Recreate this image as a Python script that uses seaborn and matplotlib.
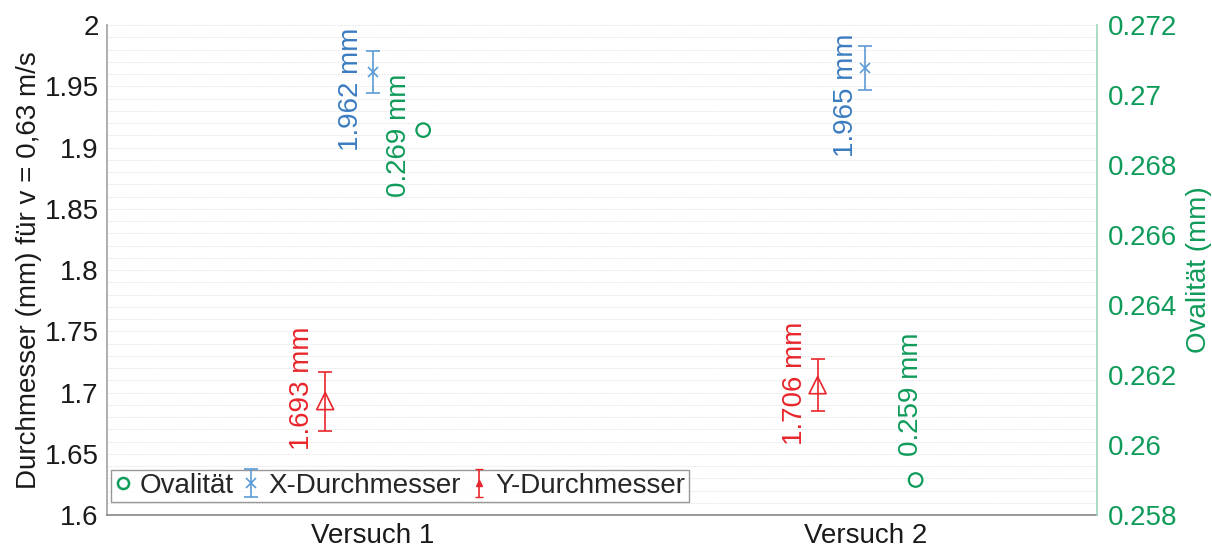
import numpy as np
import pandas as pd
import matplotlib
matplotlib.use("Agg")
import matplotlib.pyplot as plt
import seaborn as sns
from matplotlib.lines import Line2D
from matplotlib.ticker import MultipleLocator, FuncFormatter

# ---- data ----
categories = ["Versuch 1", "Versuch 2"]
x_diam = [1.962, 1.965]
x_err = [0.017, 0.018]
y_diam = [1.693, 1.706]
y_err = [0.024, 0.021]
ovality = [0.269, 0.259]

BLUE = "#3b7cc0"
BLUE_M = "#5b9bd5"
RED = "#e8262b"
GREEN = "#0f9b5a"

sns.set_theme(style="white")
plt.rcParams['font.family'] = ['Liberation Sans', 'DejaVu Sans']

fig = plt.figure(figsize=(12.12, 5.47), dpi=100)
ax = fig.add_axes([0.0883, 0.0585, 0.8167, 0.8955])
ax2 = ax.twinx()

pos = np.arange(len(categories))
off_y, off_x, off_o = -0.097, 0.0, 0.102

df = pd.DataFrame({"pos": pos, "x": x_diam, "y": y_diam, "o": ovality})

# grid
ax.set_ylim(1.6, 2.0)
ax.yaxis.set_major_locator(MultipleLocator(0.05))
ax.yaxis.set_minor_locator(MultipleLocator(0.01))
ax.grid(True, which='both', axis='y', color='#e3e3e3', linestyle=(0, (1.5, 1.5)), linewidth=0.7)
ax.set_axisbelow(True)

# X-Durchmesser
hx = ax.errorbar(df["pos"] + off_x, df["x"], yerr=x_err, fmt='x', color=BLUE_M,
                 ecolor=BLUE_M, elinewidth=1.2, capsize=5, capthick=1.2,
                 markersize=7, markeredgewidth=1.2, label="X-Durchmesser", zorder=3)
# Y-Durchmesser
ax.errorbar(df["pos"] + off_y, df["y"], yerr=y_err, fmt='none', ecolor=RED,
            elinewidth=1.2, capsize=5, capthick=1.2, zorder=3)
sns.scatterplot(x=df["pos"] + off_y, y=df["y"], ax=ax, marker='^', s=150,
                facecolor='none', edgecolor=RED, linewidth=1.2, zorder=4, legend=False)

# Ovalität (right axis)
sns.scatterplot(x=df["pos"] + off_o, y=df["o"], ax=ax2, marker='o', s=95,
                facecolor='none', edgecolor=GREEN, linewidth=1.6, zorder=4, legend=False)

ax.set_xlim(-0.54, 1.47)
ax2.set_ylim(0.258, 0.272)
ax2.yaxis.set_major_locator(MultipleLocator(0.002))

ax.set_xticks(pos)
ax.set_xticklabels(categories)
ax.yaxis.set_major_formatter(FuncFormatter(lambda v, p: f"{v:.2f}".rstrip('0').rstrip('.')))
ax2.yaxis.set_major_formatter(FuncFormatter(lambda v, p: f"{v:.3f}".rstrip('0').rstrip('.')))

fs = 20
ax.tick_params(axis='both', which='both', length=0, labelsize=fs, colors='#1a1a1a', pad=6)
ax.tick_params(axis='x', pad=6)
ax2.tick_params(axis='y', length=0, labelsize=fs, colors=GREEN, pad=8)

ax.set_ylabel("Durchmesser (mm) für v = 0,63 m/s", fontsize=fs, color='#1a1a1a', labelpad=2)
ax2.set_ylabel("Ovalität (mm)", fontsize=fs, color=GREEN, labelpad=6)
ax.set_xlabel("")
ax2.set_xlabel("")

for a in (ax, ax2):
    a.spines['top'].set_visible(False)
ax.spines['left'].set_color('#a6a6a6')
ax.spines['bottom'].set_color('#8c8c8c')
ax.spines['right'].set_visible(False)
ax2.spines['left'].set_visible(False)
ax2.spines['bottom'].set_visible(False)
ax2.spines['right'].set_color('#9fd6bb')
ax2.spines['right'].set_linewidth(1.2)

# data labels
lab_kw = dict(rotation=90, ha='center', va='center', fontsize=fs, textcoords='offset pixels')
x_offsets = [(-22, -18), (-19, -27)]
y_offsets = [(-23, 13), (-23, 2)]
o_offsets = [(-24, -5), (-5, 86)]
for i in range(len(categories)):
    ax.annotate(f"{x_diam[i]:.3f} mm", (pos[i] + off_x, x_diam[i]), xytext=x_offsets[i], color=BLUE, **lab_kw)
    ax.annotate(f"{y_diam[i]:.3f} mm", (pos[i] + off_y, y_diam[i]), xytext=y_offsets[i], color=RED, **lab_kw)
    ax2.annotate(f"{ovality[i]:.3f} mm", (pos[i] + off_o, ovality[i]), xytext=o_offsets[i], color=GREEN, **lab_kw)

# legend
h_o = Line2D([], [], marker='o', linestyle='none', markerfacecolor='none',
             markeredgecolor=GREEN, markeredgewidth=1.8, markersize=8)
hy = ax.errorbar([np.nan], [np.nan], yerr=[0.01], fmt='^', color=RED, ecolor=RED,
                 elinewidth=1.2, capsize=3, markersize=4)
leg = ax.legend([h_o, hx, hy], ["Ovalität", "X-Durchmesser", "Y-Durchmesser"],
                loc='lower left', bbox_to_anchor=(0.004, 0.026), ncol=3, fontsize=fs,
                frameon=True, fancybox=False, handlelength=0.6, handletextpad=0.3,
                columnspacing=0.35, borderpad=0.12, borderaxespad=0.0)
leg.get_frame().set_edgecolor('#7f7f7f')
leg.get_frame().set_linewidth(1.0)
leg.set_zorder(10)

fig.savefig("out.png", dpi=100)
